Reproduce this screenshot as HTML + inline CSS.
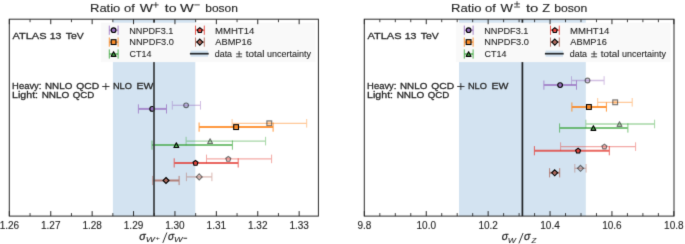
<!DOCTYPE html>
<html><head><meta charset="utf-8"><style>
html,body{margin:0;padding:0;background:#fff;width:685px;height:244px;overflow:hidden;}
svg{display:block;will-change:transform;}

</style></head><body>
<svg width="685" height="244" viewBox="0 0 685 244"><defs><filter id="bl" x="0" y="0" width="100%" height="100%" color-interpolation-filters="sRGB"><feConvolveMatrix order="3" kernelMatrix="0.01134 0.08382 0.01134 0.08382 0.61935 0.08382 0.01134 0.08382 0.01134" divisor="1" edgeMode="duplicate"/></filter></defs><g filter="url(#bl)"><rect width="685" height="244" fill="#fff"/><rect x="112.90" y="19.2" width="82.40" height="196.9" fill="#d3e3f1"/><text x="12.48" y="39.00" font-size="9.75" font-family='"Liberation Sans", sans-serif' fill="#262626" stroke="#262626" stroke-width="0.28" textLength="34.12" lengthAdjust="spacingAndGlyphs">ATLAS</text><text x="49.69" y="39.00" font-size="9.75" font-family='"Liberation Sans", sans-serif' fill="#262626" stroke="#262626" stroke-width="0.28" textLength="11.77" lengthAdjust="spacingAndGlyphs">13</text><text x="65.78" y="39.00" font-size="9.75" font-family='"Liberation Sans", sans-serif' fill="#262626" stroke="#262626" stroke-width="0.28" textLength="18.06" lengthAdjust="spacingAndGlyphs">TeV</text><text x="12.13" y="88.90" font-size="9.40" font-family='"Liberation Sans", sans-serif' fill="#262626" stroke="#262626" stroke-width="0.28" textLength="29.33" lengthAdjust="spacingAndGlyphs">Heavy:</text><text x="44.99" y="88.90" font-size="9.40" font-family='"Liberation Sans", sans-serif' fill="#262626" stroke="#262626" stroke-width="0.28" textLength="27.28" lengthAdjust="spacingAndGlyphs">NNLO</text><text x="76.31" y="88.90" font-size="9.40" font-family='"Liberation Sans", sans-serif' fill="#262626" stroke="#262626" stroke-width="0.28" textLength="22.88" lengthAdjust="spacingAndGlyphs">QCD</text><text x="112.94" y="88.90" font-size="9.40" font-family='"Liberation Sans", sans-serif' fill="#262626" stroke="#262626" stroke-width="0.28" textLength="19.00" lengthAdjust="spacingAndGlyphs">NLO</text><text x="136.54" y="88.90" font-size="9.40" font-family='"Liberation Sans", sans-serif' fill="#262626" stroke="#262626" stroke-width="0.28" textLength="16.90" lengthAdjust="spacingAndGlyphs">EW</text><line x1="102.20" y1="86.50" x2="109.50" y2="86.50" stroke="#262626" stroke-width="0.9"/><line x1="105.85" y1="83.10" x2="105.85" y2="89.90" stroke="#262626" stroke-width="0.9"/><text x="12.03" y="97.80" font-size="9.40" font-family='"Liberation Sans", sans-serif' fill="#262626" stroke="#262626" stroke-width="0.28" textLength="26.05" lengthAdjust="spacingAndGlyphs">Light:</text><text x="41.68" y="97.80" font-size="9.40" font-family='"Liberation Sans", sans-serif' fill="#262626" stroke="#262626" stroke-width="0.28" textLength="27.69" lengthAdjust="spacingAndGlyphs">NNLO</text><text x="72.84" y="97.80" font-size="9.40" font-family='"Liberation Sans", sans-serif' fill="#262626" stroke="#262626" stroke-width="0.28" textLength="21.52" lengthAdjust="spacingAndGlyphs">QCD</text><g stroke="#9467bd" opacity="0.42" fill="none"><line x1="172.30" y1="105.30" x2="200.50" y2="105.30" stroke-width="1.3"/><line x1="172.30" y1="101.00" x2="172.30" y2="109.60" stroke-width="1.0"/><line x1="200.50" y1="101.00" x2="200.50" y2="109.60" stroke-width="1.0"/></g><circle cx="186.10" cy="105.30" r="2.35" fill="#9467bd" fill-opacity="0.55" stroke="#000" stroke-width="1.1" opacity="0.55"/><g stroke="#9467bd" opacity="0.7" fill="none"><line x1="138.40" y1="108.90" x2="166.50" y2="108.90" stroke-width="2.0"/><line x1="138.40" y1="104.30" x2="138.40" y2="113.50" stroke-width="1.0"/><line x1="166.50" y1="104.30" x2="166.50" y2="113.50" stroke-width="1.0"/></g><circle cx="152.20" cy="108.90" r="2.35" fill="#9467bd" fill-opacity="0.72" stroke="#000" stroke-width="1.1" opacity="1.0"/><g stroke="#ff7f0e" opacity="0.42" fill="none"><line x1="232.10" y1="123.30" x2="306.70" y2="123.30" stroke-width="1.3"/><line x1="232.10" y1="119.00" x2="232.10" y2="127.60" stroke-width="1.0"/><line x1="306.70" y1="119.00" x2="306.70" y2="127.60" stroke-width="1.0"/></g><rect x="266.90" y="120.90" width="4.80" height="4.80" fill="#ff7f0e" fill-opacity="0.55" stroke="#000" stroke-width="1.1" opacity="0.55"/><g stroke="#ff7f0e" opacity="0.8" fill="none"><line x1="199.10" y1="127.10" x2="273.10" y2="127.10" stroke-width="2.0"/><line x1="199.10" y1="122.50" x2="199.10" y2="131.70" stroke-width="1.0"/><line x1="273.10" y1="122.50" x2="273.10" y2="131.70" stroke-width="1.0"/></g><rect x="233.70" y="124.70" width="4.80" height="4.80" fill="#ff7f0e" fill-opacity="0.72" stroke="#000" stroke-width="1.1" opacity="1.0"/><g stroke="#2ca02c" opacity="0.42" fill="none"><line x1="186.10" y1="141.10" x2="265.60" y2="141.10" stroke-width="1.3"/><line x1="186.10" y1="136.80" x2="186.10" y2="145.40" stroke-width="1.0"/><line x1="265.60" y1="136.80" x2="265.60" y2="145.40" stroke-width="1.0"/></g><polygon points="210.10,138.75 212.55,143.45 207.65,143.45" fill="#2ca02c" fill-opacity="0.55" stroke="#000" stroke-width="1.1" opacity="0.55" stroke-linejoin="round"/><g stroke="#2ca02c" opacity="0.62" fill="none"><line x1="152.00" y1="145.10" x2="232.40" y2="145.10" stroke-width="2.0"/><line x1="152.00" y1="140.50" x2="152.00" y2="149.70" stroke-width="1.0"/><line x1="232.40" y1="140.50" x2="232.40" y2="149.70" stroke-width="1.0"/></g><polygon points="176.35,142.75 178.80,147.45 173.90,147.45" fill="#2ca02c" fill-opacity="0.72" stroke="#000" stroke-width="1.1" opacity="1.0" stroke-linejoin="round"/><g stroke="#e3342b" opacity="0.42" fill="none"><line x1="206.50" y1="158.90" x2="271.60" y2="158.90" stroke-width="1.3"/><line x1="206.50" y1="154.60" x2="206.50" y2="163.20" stroke-width="1.0"/><line x1="271.60" y1="154.60" x2="271.60" y2="163.20" stroke-width="1.0"/></g><polygon points="228.30,156.50 230.77,158.30 229.83,161.20 226.77,161.20 225.83,158.30" fill="#e3342b" fill-opacity="0.55" stroke="#000" stroke-width="1.1" opacity="0.55" stroke-linejoin="miter"/><g stroke="#e3342b" opacity="0.75" fill="none"><line x1="174.20" y1="162.90" x2="238.20" y2="162.90" stroke-width="2.0"/><line x1="174.20" y1="158.30" x2="174.20" y2="167.50" stroke-width="1.0"/><line x1="238.20" y1="158.30" x2="238.20" y2="167.50" stroke-width="1.0"/></g><polygon points="195.50,160.50 197.97,162.30 197.03,165.20 193.97,165.20 193.03,162.30" fill="#e3342b" fill-opacity="0.72" stroke="#000" stroke-width="1.1" opacity="1.0" stroke-linejoin="miter"/><g stroke="#a85a4a" opacity="0.42" fill="none"><line x1="186.40" y1="176.90" x2="211.90" y2="176.90" stroke-width="1.3"/><line x1="186.40" y1="172.60" x2="186.40" y2="181.20" stroke-width="1.0"/><line x1="211.90" y1="172.60" x2="211.90" y2="181.20" stroke-width="1.0"/></g><polygon points="199.20,173.90 202.20,176.90 199.20,179.90 196.20,176.90" fill="#a85a4a" fill-opacity="0.55" stroke="#000" stroke-width="1.1" opacity="0.55" stroke-linejoin="miter"/><g stroke="#a85a4a" opacity="0.72" fill="none"><line x1="152.90" y1="180.50" x2="179.10" y2="180.50" stroke-width="2.0"/><line x1="152.90" y1="175.90" x2="152.90" y2="185.10" stroke-width="1.0"/><line x1="179.10" y1="175.90" x2="179.10" y2="185.10" stroke-width="1.0"/></g><polygon points="166.00,177.50 169.00,180.50 166.00,183.50 163.00,180.50" fill="#a85a4a" fill-opacity="0.72" stroke="#000" stroke-width="1.1" opacity="1.0" stroke-linejoin="miter"/><line x1="154.0" y1="19.2" x2="154.0" y2="216.1" stroke="#383b3e" stroke-width="1.7"/><rect x="100.80" y="22.7" width="214.70" height="39.4" fill="#f9f9f9"/><g stroke="#9467bd" opacity="0.8" fill="none"><line x1="109.30" y1="30.20" x2="118.10" y2="30.20" stroke-width="1.4"/><line x1="109.30" y1="25.60" x2="109.30" y2="34.80" stroke-width="1.0"/><line x1="118.10" y1="25.60" x2="118.10" y2="34.80" stroke-width="1.0"/></g><circle cx="113.60" cy="30.20" r="2.35" fill="#9467bd" fill-opacity="0.8" stroke="#000" stroke-width="1.1" opacity="1.0"/><g stroke="#ff7f0e" opacity="0.8" fill="none"><line x1="109.30" y1="42.10" x2="118.10" y2="42.10" stroke-width="1.4"/><line x1="109.30" y1="37.50" x2="109.30" y2="46.70" stroke-width="1.0"/><line x1="118.10" y1="37.50" x2="118.10" y2="46.70" stroke-width="1.0"/></g><rect x="111.20" y="39.70" width="4.80" height="4.80" fill="#ff7f0e" fill-opacity="0.8" stroke="#000" stroke-width="1.1" opacity="1.0"/><g stroke="#2ca02c" opacity="0.8" fill="none"><line x1="109.30" y1="54.00" x2="118.10" y2="54.00" stroke-width="1.4"/><line x1="109.30" y1="49.40" x2="109.30" y2="58.60" stroke-width="1.0"/><line x1="118.10" y1="49.40" x2="118.10" y2="58.60" stroke-width="1.0"/></g><polygon points="113.60,51.65 116.05,56.35 111.15,56.35" fill="#2ca02c" fill-opacity="0.8" stroke="#000" stroke-width="1.1" opacity="1.0" stroke-linejoin="round"/><g stroke="#e3342b" opacity="0.8" fill="none"><line x1="195.50" y1="30.20" x2="204.30" y2="30.20" stroke-width="1.4"/><line x1="195.50" y1="25.60" x2="195.50" y2="34.80" stroke-width="1.0"/><line x1="204.30" y1="25.60" x2="204.30" y2="34.80" stroke-width="1.0"/></g><polygon points="199.80,27.80 202.27,29.60 201.33,32.50 198.27,32.50 197.33,29.60" fill="#e3342b" fill-opacity="0.8" stroke="#000" stroke-width="1.1" opacity="1.0" stroke-linejoin="miter"/><g stroke="#a85a4a" opacity="0.8" fill="none"><line x1="195.50" y1="42.10" x2="204.30" y2="42.10" stroke-width="1.4"/><line x1="195.50" y1="37.50" x2="195.50" y2="46.70" stroke-width="1.0"/><line x1="204.30" y1="37.50" x2="204.30" y2="46.70" stroke-width="1.0"/></g><polygon points="199.80,39.10 202.80,42.10 199.80,45.10 196.80,42.10" fill="#a85a4a" fill-opacity="0.8" stroke="#000" stroke-width="1.1" opacity="1.0" stroke-linejoin="miter"/><text x="129.25" y="33.60" font-size="9.10" font-family='"Liberation Sans", sans-serif' fill="#262626" stroke="#262626" stroke-width="0.1" textLength="44.09" lengthAdjust="spacingAndGlyphs">NNPDF3.1</text><text x="129.24" y="45.30" font-size="9.10" font-family='"Liberation Sans", sans-serif' fill="#262626" stroke="#262626" stroke-width="0.1" textLength="44.62" lengthAdjust="spacingAndGlyphs">NNPDF3.0</text><text x="129.55" y="57.10" font-size="9.10" font-family='"Liberation Sans", sans-serif' fill="#262626" stroke="#262626" stroke-width="0.1" textLength="21.81" lengthAdjust="spacingAndGlyphs">CT14</text><text x="214.91" y="33.60" font-size="9.10" font-family='"Liberation Sans", sans-serif' fill="#262626" stroke="#262626" stroke-width="0.1" textLength="39.47" lengthAdjust="spacingAndGlyphs">MMHT14</text><text x="215.38" y="45.30" font-size="9.10" font-family='"Liberation Sans", sans-serif' fill="#262626" stroke="#262626" stroke-width="0.1" textLength="36.42" lengthAdjust="spacingAndGlyphs">ABMP16</text><text x="214.73" y="57.10" font-size="9.10" font-family='"Liberation Sans", sans-serif' fill="#262626" stroke="#262626" stroke-width="0.1" textLength="17.37" lengthAdjust="spacingAndGlyphs">data</text><text x="245.85" y="57.10" font-size="9.10" font-family='"Liberation Sans", sans-serif' fill="#262626" stroke="#262626" stroke-width="0.1" textLength="18.71" lengthAdjust="spacingAndGlyphs">total</text><text x="266.92" y="57.10" font-size="9.10" font-family='"Liberation Sans", sans-serif' fill="#262626" stroke="#262626" stroke-width="0.1" textLength="44.00" lengthAdjust="spacingAndGlyphs">uncertainty</text><line x1="236.10" y1="53.90" x2="242.10" y2="53.90" stroke="#262626" stroke-width="0.85"/><line x1="239.10" y1="51.00" x2="239.10" y2="56.40" stroke="#262626" stroke-width="0.85"/><line x1="236.10" y1="56.80" x2="242.10" y2="56.80" stroke="#262626" stroke-width="0.85"/><rect x="190.60" y="50.60" width="17.4" height="6.2" fill="#d3e3f1"/><line x1="189.90" y1="53.70" x2="208.70" y2="53.70" stroke="#25282b" stroke-width="1.7"/><rect x="9.30" y="19.2" width="309.10" height="196.90" fill="none" stroke="#2a2a2a" stroke-width="1"/><line x1="9.35" y1="216.1" x2="9.35" y2="211.1" stroke="#2a2a2a" stroke-width="1"/><line x1="9.35" y1="19.2" x2="9.35" y2="24.2" stroke="#2a2a2a" stroke-width="1"/><text x="9.35" y="228.50" font-size="10" font-family='"Liberation Sans", sans-serif' fill="#262626" stroke="#262626" stroke-width="0.12" text-anchor="middle">1.26</text><line x1="50.75" y1="216.1" x2="50.75" y2="211.1" stroke="#2a2a2a" stroke-width="1"/><line x1="50.75" y1="19.2" x2="50.75" y2="24.2" stroke="#2a2a2a" stroke-width="1"/><text x="50.75" y="228.50" font-size="10" font-family='"Liberation Sans", sans-serif' fill="#262626" stroke="#262626" stroke-width="0.12" text-anchor="middle">1.27</text><line x1="92.15" y1="216.1" x2="92.15" y2="211.1" stroke="#2a2a2a" stroke-width="1"/><line x1="92.15" y1="19.2" x2="92.15" y2="24.2" stroke="#2a2a2a" stroke-width="1"/><text x="92.15" y="228.50" font-size="10" font-family='"Liberation Sans", sans-serif' fill="#262626" stroke="#262626" stroke-width="0.12" text-anchor="middle">1.28</text><line x1="133.55" y1="216.1" x2="133.55" y2="211.1" stroke="#2a2a2a" stroke-width="1"/><line x1="133.55" y1="19.2" x2="133.55" y2="24.2" stroke="#2a2a2a" stroke-width="1"/><text x="133.55" y="228.50" font-size="10" font-family='"Liberation Sans", sans-serif' fill="#262626" stroke="#262626" stroke-width="0.12" text-anchor="middle">1.29</text><line x1="174.95" y1="216.1" x2="174.95" y2="211.1" stroke="#2a2a2a" stroke-width="1"/><line x1="174.95" y1="19.2" x2="174.95" y2="24.2" stroke="#2a2a2a" stroke-width="1"/><text x="174.95" y="228.50" font-size="10" font-family='"Liberation Sans", sans-serif' fill="#262626" stroke="#262626" stroke-width="0.12" text-anchor="middle">1.30</text><line x1="216.35" y1="216.1" x2="216.35" y2="211.1" stroke="#2a2a2a" stroke-width="1"/><line x1="216.35" y1="19.2" x2="216.35" y2="24.2" stroke="#2a2a2a" stroke-width="1"/><text x="216.35" y="228.50" font-size="10" font-family='"Liberation Sans", sans-serif' fill="#262626" stroke="#262626" stroke-width="0.12" text-anchor="middle">1.31</text><line x1="257.75" y1="216.1" x2="257.75" y2="211.1" stroke="#2a2a2a" stroke-width="1"/><line x1="257.75" y1="19.2" x2="257.75" y2="24.2" stroke="#2a2a2a" stroke-width="1"/><text x="257.75" y="228.50" font-size="10" font-family='"Liberation Sans", sans-serif' fill="#262626" stroke="#262626" stroke-width="0.12" text-anchor="middle">1.32</text><line x1="299.15" y1="216.1" x2="299.15" y2="211.1" stroke="#2a2a2a" stroke-width="1"/><line x1="299.15" y1="19.2" x2="299.15" y2="24.2" stroke="#2a2a2a" stroke-width="1"/><text x="299.15" y="228.50" font-size="10" font-family='"Liberation Sans", sans-serif' fill="#262626" stroke="#262626" stroke-width="0.12" text-anchor="middle">1.33</text><line x1="30.05" y1="216.1" x2="30.05" y2="213.1" stroke="#2a2a2a" stroke-width="0.9"/><line x1="30.05" y1="19.2" x2="30.05" y2="22.2" stroke="#2a2a2a" stroke-width="0.9"/><line x1="71.45" y1="216.1" x2="71.45" y2="213.1" stroke="#2a2a2a" stroke-width="0.9"/><line x1="71.45" y1="19.2" x2="71.45" y2="22.2" stroke="#2a2a2a" stroke-width="0.9"/><line x1="112.85" y1="216.1" x2="112.85" y2="213.1" stroke="#2a2a2a" stroke-width="0.9"/><line x1="112.85" y1="19.2" x2="112.85" y2="22.2" stroke="#2a2a2a" stroke-width="0.9"/><line x1="154.25" y1="216.1" x2="154.25" y2="213.1" stroke="#2a2a2a" stroke-width="0.9"/><line x1="154.25" y1="19.2" x2="154.25" y2="22.2" stroke="#2a2a2a" stroke-width="0.9"/><line x1="195.65" y1="216.1" x2="195.65" y2="213.1" stroke="#2a2a2a" stroke-width="0.9"/><line x1="195.65" y1="19.2" x2="195.65" y2="22.2" stroke="#2a2a2a" stroke-width="0.9"/><line x1="237.05" y1="216.1" x2="237.05" y2="213.1" stroke="#2a2a2a" stroke-width="0.9"/><line x1="237.05" y1="19.2" x2="237.05" y2="22.2" stroke="#2a2a2a" stroke-width="0.9"/><line x1="278.45" y1="216.1" x2="278.45" y2="213.1" stroke="#2a2a2a" stroke-width="0.9"/><line x1="278.45" y1="19.2" x2="278.45" y2="22.2" stroke="#2a2a2a" stroke-width="0.9"/><rect x="459.00" y="19.2" width="126.80" height="196.9" fill="#d3e3f1"/><text x="367.48" y="39.00" font-size="9.75" font-family='"Liberation Sans", sans-serif' fill="#262626" stroke="#262626" stroke-width="0.28" textLength="34.12" lengthAdjust="spacingAndGlyphs">ATLAS</text><text x="404.69" y="39.00" font-size="9.75" font-family='"Liberation Sans", sans-serif' fill="#262626" stroke="#262626" stroke-width="0.28" textLength="11.77" lengthAdjust="spacingAndGlyphs">13</text><text x="420.78" y="39.00" font-size="9.75" font-family='"Liberation Sans", sans-serif' fill="#262626" stroke="#262626" stroke-width="0.28" textLength="18.06" lengthAdjust="spacingAndGlyphs">TeV</text><text x="367.13" y="88.90" font-size="9.40" font-family='"Liberation Sans", sans-serif' fill="#262626" stroke="#262626" stroke-width="0.28" textLength="29.33" lengthAdjust="spacingAndGlyphs">Heavy:</text><text x="399.99" y="88.90" font-size="9.40" font-family='"Liberation Sans", sans-serif' fill="#262626" stroke="#262626" stroke-width="0.28" textLength="27.28" lengthAdjust="spacingAndGlyphs">NNLO</text><text x="431.31" y="88.90" font-size="9.40" font-family='"Liberation Sans", sans-serif' fill="#262626" stroke="#262626" stroke-width="0.28" textLength="22.88" lengthAdjust="spacingAndGlyphs">QCD</text><text x="467.94" y="88.90" font-size="9.40" font-family='"Liberation Sans", sans-serif' fill="#262626" stroke="#262626" stroke-width="0.28" textLength="19.00" lengthAdjust="spacingAndGlyphs">NLO</text><text x="491.54" y="88.90" font-size="9.40" font-family='"Liberation Sans", sans-serif' fill="#262626" stroke="#262626" stroke-width="0.28" textLength="16.90" lengthAdjust="spacingAndGlyphs">EW</text><line x1="457.20" y1="86.50" x2="464.50" y2="86.50" stroke="#262626" stroke-width="0.9"/><line x1="460.85" y1="83.10" x2="460.85" y2="89.90" stroke="#262626" stroke-width="0.9"/><text x="367.03" y="97.80" font-size="9.40" font-family='"Liberation Sans", sans-serif' fill="#262626" stroke="#262626" stroke-width="0.28" textLength="26.05" lengthAdjust="spacingAndGlyphs">Light:</text><text x="396.68" y="97.80" font-size="9.40" font-family='"Liberation Sans", sans-serif' fill="#262626" stroke="#262626" stroke-width="0.28" textLength="27.69" lengthAdjust="spacingAndGlyphs">NNLO</text><text x="427.84" y="97.80" font-size="9.40" font-family='"Liberation Sans", sans-serif' fill="#262626" stroke="#262626" stroke-width="0.28" textLength="21.52" lengthAdjust="spacingAndGlyphs">QCD</text><g stroke="#9467bd" opacity="0.42" fill="none"><line x1="571.50" y1="80.50" x2="604.10" y2="80.50" stroke-width="1.3"/><line x1="571.50" y1="76.20" x2="571.50" y2="84.80" stroke-width="1.0"/><line x1="604.10" y1="76.20" x2="604.10" y2="84.80" stroke-width="1.0"/></g><circle cx="587.50" cy="80.50" r="2.35" fill="#9467bd" fill-opacity="0.55" stroke="#000" stroke-width="1.1" opacity="0.55"/><g stroke="#9467bd" opacity="0.7" fill="none"><line x1="543.90" y1="85.10" x2="576.50" y2="85.10" stroke-width="2.0"/><line x1="543.90" y1="80.50" x2="543.90" y2="89.70" stroke-width="1.0"/><line x1="576.50" y1="80.50" x2="576.50" y2="89.70" stroke-width="1.0"/></g><circle cx="560.10" cy="85.10" r="2.35" fill="#9467bd" fill-opacity="0.72" stroke="#000" stroke-width="1.1" opacity="1.0"/><g stroke="#ff7f0e" opacity="0.42" fill="none"><line x1="597.70" y1="102.30" x2="632.20" y2="102.30" stroke-width="1.3"/><line x1="597.70" y1="98.00" x2="597.70" y2="106.60" stroke-width="1.0"/><line x1="632.20" y1="98.00" x2="632.20" y2="106.60" stroke-width="1.0"/></g><rect x="612.80" y="99.90" width="4.80" height="4.80" fill="#ff7f0e" fill-opacity="0.55" stroke="#000" stroke-width="1.1" opacity="0.55"/><g stroke="#ff7f0e" opacity="0.8" fill="none"><line x1="571.90" y1="107.00" x2="606.40" y2="107.00" stroke-width="2.0"/><line x1="571.90" y1="102.40" x2="571.90" y2="111.60" stroke-width="1.0"/><line x1="606.40" y1="102.40" x2="606.40" y2="111.60" stroke-width="1.0"/></g><rect x="586.50" y="104.60" width="4.80" height="4.80" fill="#ff7f0e" fill-opacity="0.72" stroke="#000" stroke-width="1.1" opacity="1.0"/><g stroke="#2ca02c" opacity="0.42" fill="none"><line x1="585.90" y1="124.00" x2="654.60" y2="124.00" stroke-width="1.3"/><line x1="585.90" y1="119.70" x2="585.90" y2="128.30" stroke-width="1.0"/><line x1="654.60" y1="119.70" x2="654.60" y2="128.30" stroke-width="1.0"/></g><polygon points="619.50,121.65 621.95,126.35 617.05,126.35" fill="#2ca02c" fill-opacity="0.55" stroke="#000" stroke-width="1.1" opacity="0.55" stroke-linejoin="round"/><g stroke="#2ca02c" opacity="0.62" fill="none"><line x1="559.60" y1="128.00" x2="627.90" y2="128.00" stroke-width="2.0"/><line x1="559.60" y1="123.40" x2="559.60" y2="132.60" stroke-width="1.0"/><line x1="627.90" y1="123.40" x2="627.90" y2="132.60" stroke-width="1.0"/></g><polygon points="593.40,125.65 595.85,130.35 590.95,130.35" fill="#2ca02c" fill-opacity="0.72" stroke="#000" stroke-width="1.1" opacity="1.0" stroke-linejoin="round"/><g stroke="#e3342b" opacity="0.42" fill="none"><line x1="560.60" y1="146.60" x2="635.60" y2="146.60" stroke-width="1.3"/><line x1="560.60" y1="142.30" x2="560.60" y2="150.90" stroke-width="1.0"/><line x1="635.60" y1="142.30" x2="635.60" y2="150.90" stroke-width="1.0"/></g><polygon points="604.40,144.20 606.87,146.00 605.93,148.90 602.87,148.90 601.93,146.00" fill="#e3342b" fill-opacity="0.55" stroke="#000" stroke-width="1.1" opacity="0.55" stroke-linejoin="miter"/><g stroke="#e3342b" opacity="0.75" fill="none"><line x1="534.40" y1="150.70" x2="609.30" y2="150.70" stroke-width="2.0"/><line x1="534.40" y1="146.10" x2="534.40" y2="155.30" stroke-width="1.0"/><line x1="609.30" y1="146.10" x2="609.30" y2="155.30" stroke-width="1.0"/></g><polygon points="578.10,148.30 580.57,150.10 579.63,153.00 576.57,153.00 575.63,150.10" fill="#e3342b" fill-opacity="0.72" stroke="#000" stroke-width="1.1" opacity="1.0" stroke-linejoin="miter"/><g stroke="#a85a4a" opacity="0.42" fill="none"><line x1="574.80" y1="168.30" x2="586.10" y2="168.30" stroke-width="1.3"/><line x1="574.80" y1="164.00" x2="574.80" y2="172.60" stroke-width="1.0"/><line x1="586.10" y1="164.00" x2="586.10" y2="172.60" stroke-width="1.0"/></g><polygon points="580.50,165.30 583.50,168.30 580.50,171.30 577.50,168.30" fill="#a85a4a" fill-opacity="0.55" stroke="#000" stroke-width="1.1" opacity="0.55" stroke-linejoin="miter"/><g stroke="#a85a4a" opacity="0.72" fill="none"><line x1="549.60" y1="172.80" x2="559.70" y2="172.80" stroke-width="2.0"/><line x1="549.60" y1="168.20" x2="549.60" y2="177.40" stroke-width="1.0"/><line x1="559.70" y1="168.20" x2="559.70" y2="177.40" stroke-width="1.0"/></g><polygon points="554.70,169.80 557.70,172.80 554.70,175.80 551.70,172.80" fill="#a85a4a" fill-opacity="0.72" stroke="#000" stroke-width="1.1" opacity="1.0" stroke-linejoin="miter"/><line x1="522.4" y1="19.2" x2="522.4" y2="216.1" stroke="#1e2124" stroke-width="1.7"/><rect x="455.80" y="22.7" width="214.70" height="39.4" fill="#f9f9f9"/><g stroke="#9467bd" opacity="0.8" fill="none"><line x1="464.30" y1="30.20" x2="473.10" y2="30.20" stroke-width="1.4"/><line x1="464.30" y1="25.60" x2="464.30" y2="34.80" stroke-width="1.0"/><line x1="473.10" y1="25.60" x2="473.10" y2="34.80" stroke-width="1.0"/></g><circle cx="468.60" cy="30.20" r="2.35" fill="#9467bd" fill-opacity="0.8" stroke="#000" stroke-width="1.1" opacity="1.0"/><g stroke="#ff7f0e" opacity="0.8" fill="none"><line x1="464.30" y1="42.10" x2="473.10" y2="42.10" stroke-width="1.4"/><line x1="464.30" y1="37.50" x2="464.30" y2="46.70" stroke-width="1.0"/><line x1="473.10" y1="37.50" x2="473.10" y2="46.70" stroke-width="1.0"/></g><rect x="466.20" y="39.70" width="4.80" height="4.80" fill="#ff7f0e" fill-opacity="0.8" stroke="#000" stroke-width="1.1" opacity="1.0"/><g stroke="#2ca02c" opacity="0.8" fill="none"><line x1="464.30" y1="54.00" x2="473.10" y2="54.00" stroke-width="1.4"/><line x1="464.30" y1="49.40" x2="464.30" y2="58.60" stroke-width="1.0"/><line x1="473.10" y1="49.40" x2="473.10" y2="58.60" stroke-width="1.0"/></g><polygon points="468.60,51.65 471.05,56.35 466.15,56.35" fill="#2ca02c" fill-opacity="0.8" stroke="#000" stroke-width="1.1" opacity="1.0" stroke-linejoin="round"/><g stroke="#e3342b" opacity="0.8" fill="none"><line x1="550.50" y1="30.20" x2="559.30" y2="30.20" stroke-width="1.4"/><line x1="550.50" y1="25.60" x2="550.50" y2="34.80" stroke-width="1.0"/><line x1="559.30" y1="25.60" x2="559.30" y2="34.80" stroke-width="1.0"/></g><polygon points="554.80,27.80 557.27,29.60 556.33,32.50 553.27,32.50 552.33,29.60" fill="#e3342b" fill-opacity="0.8" stroke="#000" stroke-width="1.1" opacity="1.0" stroke-linejoin="miter"/><g stroke="#a85a4a" opacity="0.8" fill="none"><line x1="550.50" y1="42.10" x2="559.30" y2="42.10" stroke-width="1.4"/><line x1="550.50" y1="37.50" x2="550.50" y2="46.70" stroke-width="1.0"/><line x1="559.30" y1="37.50" x2="559.30" y2="46.70" stroke-width="1.0"/></g><polygon points="554.80,39.10 557.80,42.10 554.80,45.10 551.80,42.10" fill="#a85a4a" fill-opacity="0.8" stroke="#000" stroke-width="1.1" opacity="1.0" stroke-linejoin="miter"/><text x="484.25" y="33.60" font-size="9.10" font-family='"Liberation Sans", sans-serif' fill="#262626" stroke="#262626" stroke-width="0.1" textLength="44.09" lengthAdjust="spacingAndGlyphs">NNPDF3.1</text><text x="484.24" y="45.30" font-size="9.10" font-family='"Liberation Sans", sans-serif' fill="#262626" stroke="#262626" stroke-width="0.1" textLength="44.62" lengthAdjust="spacingAndGlyphs">NNPDF3.0</text><text x="484.55" y="57.10" font-size="9.10" font-family='"Liberation Sans", sans-serif' fill="#262626" stroke="#262626" stroke-width="0.1" textLength="21.81" lengthAdjust="spacingAndGlyphs">CT14</text><text x="569.91" y="33.60" font-size="9.10" font-family='"Liberation Sans", sans-serif' fill="#262626" stroke="#262626" stroke-width="0.1" textLength="39.47" lengthAdjust="spacingAndGlyphs">MMHT14</text><text x="570.38" y="45.30" font-size="9.10" font-family='"Liberation Sans", sans-serif' fill="#262626" stroke="#262626" stroke-width="0.1" textLength="36.42" lengthAdjust="spacingAndGlyphs">ABMP16</text><text x="569.73" y="57.10" font-size="9.10" font-family='"Liberation Sans", sans-serif' fill="#262626" stroke="#262626" stroke-width="0.1" textLength="17.37" lengthAdjust="spacingAndGlyphs">data</text><text x="600.85" y="57.10" font-size="9.10" font-family='"Liberation Sans", sans-serif' fill="#262626" stroke="#262626" stroke-width="0.1" textLength="18.71" lengthAdjust="spacingAndGlyphs">total</text><text x="621.92" y="57.10" font-size="9.10" font-family='"Liberation Sans", sans-serif' fill="#262626" stroke="#262626" stroke-width="0.1" textLength="44.00" lengthAdjust="spacingAndGlyphs">uncertainty</text><line x1="591.10" y1="53.90" x2="597.10" y2="53.90" stroke="#262626" stroke-width="0.85"/><line x1="594.10" y1="51.00" x2="594.10" y2="56.40" stroke="#262626" stroke-width="0.85"/><line x1="591.10" y1="56.80" x2="597.10" y2="56.80" stroke="#262626" stroke-width="0.85"/><rect x="545.60" y="50.60" width="17.4" height="6.2" fill="#d3e3f1"/><line x1="544.90" y1="53.70" x2="563.70" y2="53.70" stroke="#25282b" stroke-width="1.7"/><rect x="364.30" y="19.2" width="309.70" height="196.90" fill="none" stroke="#2a2a2a" stroke-width="1"/><line x1="364.35" y1="216.1" x2="364.35" y2="211.1" stroke="#2a2a2a" stroke-width="1"/><line x1="364.35" y1="19.2" x2="364.35" y2="24.2" stroke="#2a2a2a" stroke-width="1"/><text x="364.35" y="228.50" font-size="10" font-family='"Liberation Sans", sans-serif' fill="#262626" stroke="#262626" stroke-width="0.12" text-anchor="middle">9.8</text><line x1="426.25" y1="216.1" x2="426.25" y2="211.1" stroke="#2a2a2a" stroke-width="1"/><line x1="426.25" y1="19.2" x2="426.25" y2="24.2" stroke="#2a2a2a" stroke-width="1"/><text x="426.25" y="228.50" font-size="10" font-family='"Liberation Sans", sans-serif' fill="#262626" stroke="#262626" stroke-width="0.12" text-anchor="middle">10.0</text><line x1="488.15" y1="216.1" x2="488.15" y2="211.1" stroke="#2a2a2a" stroke-width="1"/><line x1="488.15" y1="19.2" x2="488.15" y2="24.2" stroke="#2a2a2a" stroke-width="1"/><text x="488.15" y="228.50" font-size="10" font-family='"Liberation Sans", sans-serif' fill="#262626" stroke="#262626" stroke-width="0.12" text-anchor="middle">10.2</text><line x1="550.05" y1="216.1" x2="550.05" y2="211.1" stroke="#2a2a2a" stroke-width="1"/><line x1="550.05" y1="19.2" x2="550.05" y2="24.2" stroke="#2a2a2a" stroke-width="1"/><text x="550.05" y="228.50" font-size="10" font-family='"Liberation Sans", sans-serif' fill="#262626" stroke="#262626" stroke-width="0.12" text-anchor="middle">10.4</text><line x1="611.95" y1="216.1" x2="611.95" y2="211.1" stroke="#2a2a2a" stroke-width="1"/><line x1="611.95" y1="19.2" x2="611.95" y2="24.2" stroke="#2a2a2a" stroke-width="1"/><text x="611.95" y="228.50" font-size="10" font-family='"Liberation Sans", sans-serif' fill="#262626" stroke="#262626" stroke-width="0.12" text-anchor="middle">10.6</text><line x1="673.85" y1="216.1" x2="673.85" y2="211.1" stroke="#2a2a2a" stroke-width="1"/><line x1="673.85" y1="19.2" x2="673.85" y2="24.2" stroke="#2a2a2a" stroke-width="1"/><text x="673.85" y="228.50" font-size="10" font-family='"Liberation Sans", sans-serif' fill="#262626" stroke="#262626" stroke-width="0.12" text-anchor="middle">10.8</text><line x1="379.83" y1="216.1" x2="379.83" y2="213.1" stroke="#2a2a2a" stroke-width="0.9"/><line x1="379.83" y1="19.2" x2="379.83" y2="22.2" stroke="#2a2a2a" stroke-width="0.9"/><line x1="395.30" y1="216.1" x2="395.30" y2="213.1" stroke="#2a2a2a" stroke-width="0.9"/><line x1="395.30" y1="19.2" x2="395.30" y2="22.2" stroke="#2a2a2a" stroke-width="0.9"/><line x1="410.78" y1="216.1" x2="410.78" y2="213.1" stroke="#2a2a2a" stroke-width="0.9"/><line x1="410.78" y1="19.2" x2="410.78" y2="22.2" stroke="#2a2a2a" stroke-width="0.9"/><line x1="441.73" y1="216.1" x2="441.73" y2="213.1" stroke="#2a2a2a" stroke-width="0.9"/><line x1="441.73" y1="19.2" x2="441.73" y2="22.2" stroke="#2a2a2a" stroke-width="0.9"/><line x1="457.20" y1="216.1" x2="457.20" y2="213.1" stroke="#2a2a2a" stroke-width="0.9"/><line x1="457.20" y1="19.2" x2="457.20" y2="22.2" stroke="#2a2a2a" stroke-width="0.9"/><line x1="472.68" y1="216.1" x2="472.68" y2="213.1" stroke="#2a2a2a" stroke-width="0.9"/><line x1="472.68" y1="19.2" x2="472.68" y2="22.2" stroke="#2a2a2a" stroke-width="0.9"/><line x1="503.62" y1="216.1" x2="503.62" y2="213.1" stroke="#2a2a2a" stroke-width="0.9"/><line x1="503.62" y1="19.2" x2="503.62" y2="22.2" stroke="#2a2a2a" stroke-width="0.9"/><line x1="519.10" y1="216.1" x2="519.10" y2="213.1" stroke="#2a2a2a" stroke-width="0.9"/><line x1="519.10" y1="19.2" x2="519.10" y2="22.2" stroke="#2a2a2a" stroke-width="0.9"/><line x1="534.58" y1="216.1" x2="534.58" y2="213.1" stroke="#2a2a2a" stroke-width="0.9"/><line x1="534.58" y1="19.2" x2="534.58" y2="22.2" stroke="#2a2a2a" stroke-width="0.9"/><line x1="565.52" y1="216.1" x2="565.52" y2="213.1" stroke="#2a2a2a" stroke-width="0.9"/><line x1="565.52" y1="19.2" x2="565.52" y2="22.2" stroke="#2a2a2a" stroke-width="0.9"/><line x1="581.00" y1="216.1" x2="581.00" y2="213.1" stroke="#2a2a2a" stroke-width="0.9"/><line x1="581.00" y1="19.2" x2="581.00" y2="22.2" stroke="#2a2a2a" stroke-width="0.9"/><line x1="596.48" y1="216.1" x2="596.48" y2="213.1" stroke="#2a2a2a" stroke-width="0.9"/><line x1="596.48" y1="19.2" x2="596.48" y2="22.2" stroke="#2a2a2a" stroke-width="0.9"/><line x1="627.42" y1="216.1" x2="627.42" y2="213.1" stroke="#2a2a2a" stroke-width="0.9"/><line x1="627.42" y1="19.2" x2="627.42" y2="22.2" stroke="#2a2a2a" stroke-width="0.9"/><line x1="642.90" y1="216.1" x2="642.90" y2="213.1" stroke="#2a2a2a" stroke-width="0.9"/><line x1="642.90" y1="19.2" x2="642.90" y2="22.2" stroke="#2a2a2a" stroke-width="0.9"/><line x1="658.38" y1="216.1" x2="658.38" y2="213.1" stroke="#2a2a2a" stroke-width="0.9"/><line x1="658.38" y1="19.2" x2="658.38" y2="22.2" stroke="#2a2a2a" stroke-width="0.9"/><text x="90.03" y="11.70" font-size="11.20" font-family='"Liberation Sans", sans-serif' fill="#262626" stroke="#262626" stroke-width="0.15" textLength="44.75" lengthAdjust="spacingAndGlyphs">Ratio of</text><text x="139.74" y="11.70" font-size="11.20" font-family='"Liberation Sans", sans-serif' fill="#262626" stroke="#262626" stroke-width="0.15" textLength="13.11" lengthAdjust="spacingAndGlyphs">W</text><text x="164.89" y="11.70" font-size="11.20" font-family='"Liberation Sans", sans-serif' fill="#262626" stroke="#262626" stroke-width="0.15" textLength="11.81" lengthAdjust="spacingAndGlyphs">to</text><text x="179.94" y="11.70" font-size="11.20" font-family='"Liberation Sans", sans-serif' fill="#262626" stroke="#262626" stroke-width="0.15" textLength="13.71" lengthAdjust="spacingAndGlyphs">W</text><text x="205.23" y="11.70" font-size="11.20" font-family='"Liberation Sans", sans-serif' fill="#262626" stroke="#262626" stroke-width="0.15" textLength="32.65" lengthAdjust="spacingAndGlyphs">boson</text><line x1="153.10" y1="4.90" x2="158.60" y2="4.90" stroke="#262626" stroke-width="0.85"/><line x1="155.85" y1="2.20" x2="155.85" y2="7.70" stroke="#262626" stroke-width="0.85"/><line x1="194.30" y1="4.90" x2="199.80" y2="4.90" stroke="#262626" stroke-width="0.85"/><text x="451.03" y="11.70" font-size="11.20" font-family='"Liberation Sans", sans-serif' fill="#262626" stroke="#262626" stroke-width="0.15" textLength="44.85" lengthAdjust="spacingAndGlyphs">Ratio of</text><text x="500.54" y="11.70" font-size="11.20" font-family='"Liberation Sans", sans-serif' fill="#262626" stroke="#262626" stroke-width="0.15" textLength="12.40" lengthAdjust="spacingAndGlyphs">W</text><text x="525.97" y="11.70" font-size="11.20" font-family='"Liberation Sans", sans-serif' fill="#262626" stroke="#262626" stroke-width="0.15" textLength="12.45" lengthAdjust="spacingAndGlyphs">to</text><text x="542.39" y="11.70" font-size="11.20" font-family='"Liberation Sans", sans-serif' fill="#262626" stroke="#262626" stroke-width="0.15" textLength="7.80" lengthAdjust="spacingAndGlyphs">Z</text><text x="554.22" y="11.70" font-size="11.20" font-family='"Liberation Sans", sans-serif' fill="#262626" stroke="#262626" stroke-width="0.15" textLength="33.18" lengthAdjust="spacingAndGlyphs">boson</text><line x1="514.10" y1="3.90" x2="519.90" y2="3.90" stroke="#262626" stroke-width="0.85"/><line x1="517.00" y1="1.30" x2="517.00" y2="6.30" stroke="#262626" stroke-width="0.85"/><line x1="514.10" y1="7.00" x2="519.90" y2="7.00" stroke="#262626" stroke-width="0.85"/><text x="139.34" y="240.29" font-size="10.78" font-family='"Liberation Sans", sans-serif' font-style="italic" fill="#262626" stroke="#262626" stroke-width="0.28" textLength="6.52" lengthAdjust="spacingAndGlyphs">σ</text><text x="145.77" y="242.40" font-size="7.12" font-family='"Liberation Sans", sans-serif' font-style="italic" fill="#262626" stroke="#262626" stroke-width="0.05" textLength="9.08" lengthAdjust="spacingAndGlyphs">W</text><text x="155.63" y="240.14" font-size="6.13" font-family='"Liberation Sans", sans-serif' fill="#262626" stroke="#262626" stroke-width="0" textLength="4.45" lengthAdjust="spacingAndGlyphs">+</text><line x1="162.8" y1="242.9" x2="166.9" y2="232.5" stroke="#262626" stroke-width="0.95"/><text x="167.96" y="240.29" font-size="10.78" font-family='"Liberation Sans", sans-serif' font-style="italic" fill="#262626" stroke="#262626" stroke-width="0.28" textLength="6.12" lengthAdjust="spacingAndGlyphs">σ</text><text x="174.01" y="242.40" font-size="7.12" font-family='"Liberation Sans", sans-serif' font-style="italic" fill="#262626" stroke="#262626" stroke-width="0.05" textLength="8.67" lengthAdjust="spacingAndGlyphs">W</text><text x="183.47" y="240.20" font-size="6.00" font-family='"Liberation Sans", sans-serif' fill="#262626" stroke="#262626" stroke-width="0.28" textLength="3.97" lengthAdjust="spacingAndGlyphs">−</text><text x="501.65" y="240.49" font-size="11.15" font-family='"Liberation Sans", sans-serif' font-style="italic" fill="#262626" stroke="#262626" stroke-width="0.28" textLength="6.32" lengthAdjust="spacingAndGlyphs">σ</text><text x="507.85" y="242.60" font-size="7.41" font-family='"Liberation Sans", sans-serif' font-style="italic" fill="#262626" stroke="#262626" stroke-width="0.05" textLength="8.17" lengthAdjust="spacingAndGlyphs">W</text><line x1="518.9" y1="243.4" x2="523.1" y2="233.0" stroke="#262626" stroke-width="0.95"/><text x="524.05" y="240.49" font-size="11.15" font-family='"Liberation Sans", sans-serif' font-style="italic" fill="#262626" stroke="#262626" stroke-width="0.28" textLength="6.32" lengthAdjust="spacingAndGlyphs">σ</text><text x="531.55" y="242.60" font-size="7.41" font-family='"Liberation Sans", sans-serif' font-style="italic" fill="#262626" stroke="#262626" stroke-width="0.05" textLength="4.83" lengthAdjust="spacingAndGlyphs">Z</text></g></svg>
</body></html>
